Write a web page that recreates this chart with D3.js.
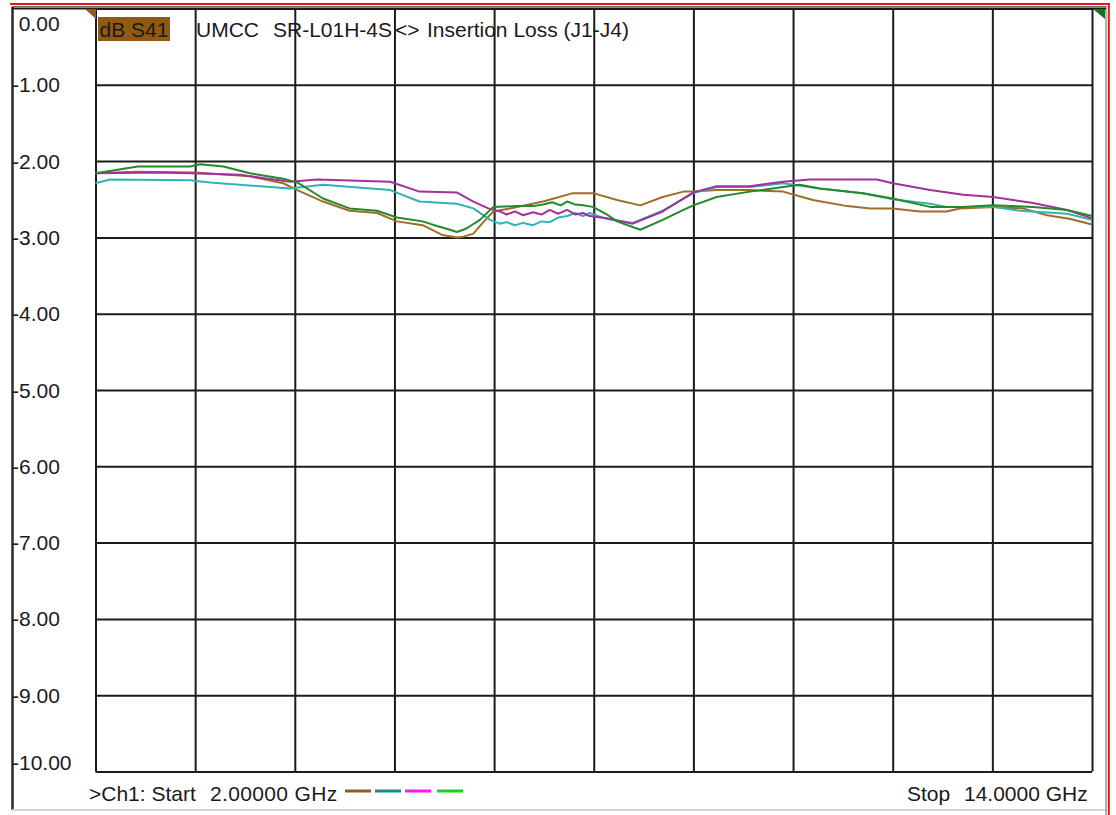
<!DOCTYPE html>
<html>
<head>
<meta charset="utf-8">
<script src="https://cdn.jsdelivr.net/npm/d3@7"></script>
<style>
  html, body { margin: 0; padding: 0; background: #ffffff; }
  svg { display: block; }
  text { font-family: "Liberation Sans", Arial, sans-serif; fill: #1a1a1a; }
</style>
</head>
<body>
<svg id="chart" width="1116" height="815"></svg>
<script>
// ---------------- data ----------------
const yTicks = [0, -1, -2, -3, -4, -5, -6, -7, -8, -9, -10];
const xTicks = [2, 3.2, 4.4, 5.6, 6.8, 8, 9.2, 10.4, 11.6, 12.8, 14];
const titleParts = ["dB S41", "UMCC", "SR-L01H-4S", "<>", "Insertion Loss (J1-J4)"];
const footerLeft = [">Ch1: Start", "2.00000 GHz"];
const footerRight = ["Stop", "14.0000 GHz"];

const brownFreq = [2.0, 2.5, 3.2, 3.86, 4.26, 4.43, 4.74, 5.06, 5.39, 5.63, 5.94, 6.18, 6.35, 6.43, 6.55, 6.67, 6.79, 6.99, 7.39, 7.75, 7.99, 8.28, 8.56, 8.83, 9.08, 9.2, 9.48, 9.88, 10.28, 10.64, 11.05, 11.33, 11.6, 11.93, 12.25, 12.41, 12.81, 13.17, 13.46, 13.74, 14.0];
const brownLoss = [-2.16, -2.14, -2.15, -2.20, -2.29, -2.38, -2.53, -2.65, -2.68, -2.79, -2.84, -2.97, -3.00, -2.99, -2.95, -2.80, -2.66, -2.62, -2.53, -2.42, -2.42, -2.51, -2.58, -2.47, -2.40, -2.40, -2.38, -2.38, -2.40, -2.51, -2.59, -2.62, -2.62, -2.66, -2.66, -2.62, -2.60, -2.62, -2.71, -2.76, -2.83];

const tealFreq = [2.0, 2.175, 3.14, 3.38, 4.34, 4.74, 5.55, 5.9, 6.35, 6.55, 6.75, 6.87, 6.95, 7.05, 7.15, 7.27, 7.37, 7.47, 7.57, 7.68, 7.78, 7.87, 7.95, 8.16, 8.47, 8.83, 9.2, 9.48, 9.88, 10.28, 10.72, 11.24, 11.6, 12.05, 12.25, 12.81, 13.13, 13.7, 14.0];
const tealLoss = [-2.29, -2.24, -2.25, -2.28, -2.36, -2.31, -2.38, -2.53, -2.56, -2.62, -2.77, -2.82, -2.80, -2.84, -2.81, -2.84, -2.79, -2.80, -2.74, -2.72, -2.68, -2.72, -2.68, -2.76, -2.81, -2.65, -2.42, -2.34, -2.34, -2.29, -2.36, -2.42, -2.50, -2.56, -2.60, -2.60, -2.65, -2.69, -2.77];

const magentaFreq = [2.0, 2.74, 3.14, 3.74, 4.34, 4.67, 5.55, 5.9, 6.35, 6.55, 6.73, 6.87, 6.95, 7.05, 7.15, 7.27, 7.37, 7.47, 7.57, 7.68, 7.78, 7.87, 7.95, 8.16, 8.47, 8.83, 9.2, 9.48, 9.88, 10.28, 10.6, 11.41, 11.6, 12.05, 12.45, 12.81, 13.29, 13.7, 14.0];
const magentaLoss = [-2.16, -2.15, -2.16, -2.18, -2.27, -2.24, -2.27, -2.40, -2.41, -2.53, -2.62, -2.66, -2.70, -2.66, -2.71, -2.67, -2.70, -2.64, -2.69, -2.64, -2.70, -2.68, -2.72, -2.75, -2.82, -2.66, -2.41, -2.33, -2.33, -2.27, -2.24, -2.24, -2.29, -2.38, -2.44, -2.47, -2.55, -2.64, -2.75];

const greenFreq = [2.0, 2.51, 3.14, 3.26, 3.54, 3.86, 4.26, 4.43, 4.74, 5.06, 5.39, 5.63, 5.94, 6.11, 6.27, 6.35, 6.43, 6.47, 6.63, 6.79, 7.08, 7.27, 7.39, 7.5, 7.6, 7.68, 7.78, 7.87, 7.99, 8.16, 8.28, 8.56, 8.83, 9.08, 9.2, 9.48, 9.88, 10.28, 10.48, 10.72, 11.24, 11.6, 12.05, 12.45, 12.81, 13.29, 13.7, 14.0];
const greenLoss = [-2.16, -2.07, -2.07, -2.04, -2.07, -2.16, -2.23, -2.28, -2.49, -2.62, -2.65, -2.74, -2.79, -2.85, -2.90, -2.93, -2.90, -2.88, -2.77, -2.60, -2.59, -2.59, -2.57, -2.54, -2.58, -2.53, -2.57, -2.58, -2.60, -2.70, -2.79, -2.90, -2.77, -2.64, -2.58, -2.47, -2.40, -2.34, -2.31, -2.36, -2.42, -2.49, -2.60, -2.60, -2.58, -2.60, -2.64, -2.72];

const seriesNames = ["brown", "teal", "magenta", "green"];
const traceColors = ["#a06d28", "#2fb3b3", "#a3309c", "#23892a"];
const legendColors = ["#8f5c1c", "#138c8c", "#ff18f6", "#18d418"];

// ---------------- layout ----------------
const svg = d3.select("#chart");
const plot = { left: 95.5, right: 1092, top: 8.5, bottom: 771.5 };

const x = d3.scaleLinear().domain([2, 14]).range([plot.left, plot.right]);
const y = d3.scaleLinear().domain([0, -10]).range([plot.top, plot.bottom]);

svg.append("rect").attr("width", 1116).attr("height", 815).attr("fill", "#ffffff");

// outer frame
svg.append("line").attr("x1", 12.5).attr("x2", 12.5).attr("y1", 7).attr("y2", 810)
  .attr("stroke", "#2a2a2a").attr("stroke-width", 2.5);
svg.append("line").attr("x1", 12).attr("x2", 1107).attr("y1", 810).attr("y2", 810)
  .attr("stroke", "#d4d4d4").attr("stroke-width", 2);
svg.append("line").attr("x1", 1106).attr("x2", 1106).attr("y1", 6).attr("y2", 815)
  .attr("stroke", "#9a9a9a").attr("stroke-width", 1.5);
svg.append("line").attr("x1", 1108.8).attr("x2", 1108.8).attr("y1", 3).attr("y2", 815)
  .attr("stroke", "#e01818").attr("stroke-width", 2);
svg.append("line").attr("x1", 10).attr("x2", 1110).attr("y1", 4).attr("y2", 4)
  .attr("stroke", "#e01818").attr("stroke-width", 2);
svg.append("line").attr("x1", 12).attr("x2", 1106).attr("y1", 6.5).attr("y2", 6.5)
  .attr("stroke", "#6a6a6a").attr("stroke-width", 1);

// grid via axes
const gridY = svg.append("g").attr("transform", `translate(${plot.left},0)`)
  .call(d3.axisRight(y).tickValues(yTicks).tickSize(plot.right - plot.left).tickFormat(""));
gridY.select(".domain").remove();
gridY.selectAll("line").attr("stroke", "#1c1c1c").attr("stroke-width", 2);

const gridX = svg.append("g").attr("transform", `translate(0,${plot.top})`)
  .call(d3.axisBottom(x).tickValues(xTicks).tickSize(plot.bottom - plot.top).tickFormat(""));
gridX.select(".domain").remove();
gridX.selectAll("line").attr("stroke", "#1c1c1c").attr("stroke-width", 2);

// top dark panel line on top of grid
svg.append("line").attr("x1", 12).attr("x2", 1106).attr("y1", plot.top).attr("y2", plot.top)
  .attr("stroke", "#1c1c1c").attr("stroke-width", 2);

// y labels
svg.append("g").selectAll("text").data(yTicks).join("text")
  .attr("x", d => d < 0 ? 12 : 18.7)
  .attr("y", d => d === 0 ? y(d) + 22.5 : (d === -10 ? y(d) - 1.5 : y(d) + 7.5))
  .attr("font-size", 21)
  .text(d => d3.format(".2f")(d).replace("−", "-"));

// reference triangles
svg.append("polygon").attr("points", "85,9 96,9 96,19").attr("fill", "#8f5c1c");
svg.append("polygon").attr("points", "1093,9 1105,9 1105,19").attr("fill", "#1b6e1b");

// title
svg.append("rect").attr("x", 98).attr("y", 17).attr("width", 72).attr("height", 24).attr("fill", "#8f5a14");
const titleX = [99.5, 196, 273, 395, 427];
svg.append("g").selectAll("text").data(titleParts).join("text")
  .attr("x", (d, i) => titleX[i]).attr("y", 37).attr("font-size", 21)
  .text(d => d);

// footer
const footLX = [89, 210];
const footLS = [0, 0.35];
svg.append("g").selectAll("text").data(footerLeft).join("text")
  .attr("x", (d, i) => footLX[i]).attr("y", 801).attr("font-size", 21)
  .attr("letter-spacing", (d, i) => footLS[i]).text(d => d);
const footRX = [907, 964];
svg.append("g").selectAll("text").data(footerRight).join("text")
  .attr("x", (d, i) => footRX[i]).attr("y", 801).attr("font-size", 21).text(d => d);

// legend dashes
const legendX = [345, 375, 405, 437];
svg.append("g").selectAll("line").data(legendColors).join("line")
  .attr("x1", (d, i) => legendX[i]).attr("x2", (d, i) => legendX[i] + 26)
  .attr("y1", 791).attr("y2", 791)
  .attr("stroke", d => d).attr("stroke-width", 3);

// traces
const freqs = [brownFreq, tealFreq, magentaFreq, greenFreq];
const losses = [brownLoss, tealLoss, magentaLoss, greenLoss];
const line = d3.line().x(d => x(d[0])).y(d => y(d[1]));
seriesNames.forEach((name, i) => {
  const pts = freqs[i].map((f, k) => [f, losses[i][k]]);
  svg.append("path").datum(pts)
    .attr("class", "trace-" + name)
    .attr("d", line)
    .attr("fill", "none")
    .attr("stroke", traceColors[i])
    .attr("stroke-width", 2)
    .attr("stroke-linejoin", "round");
});
</script>
</body>
</html>
